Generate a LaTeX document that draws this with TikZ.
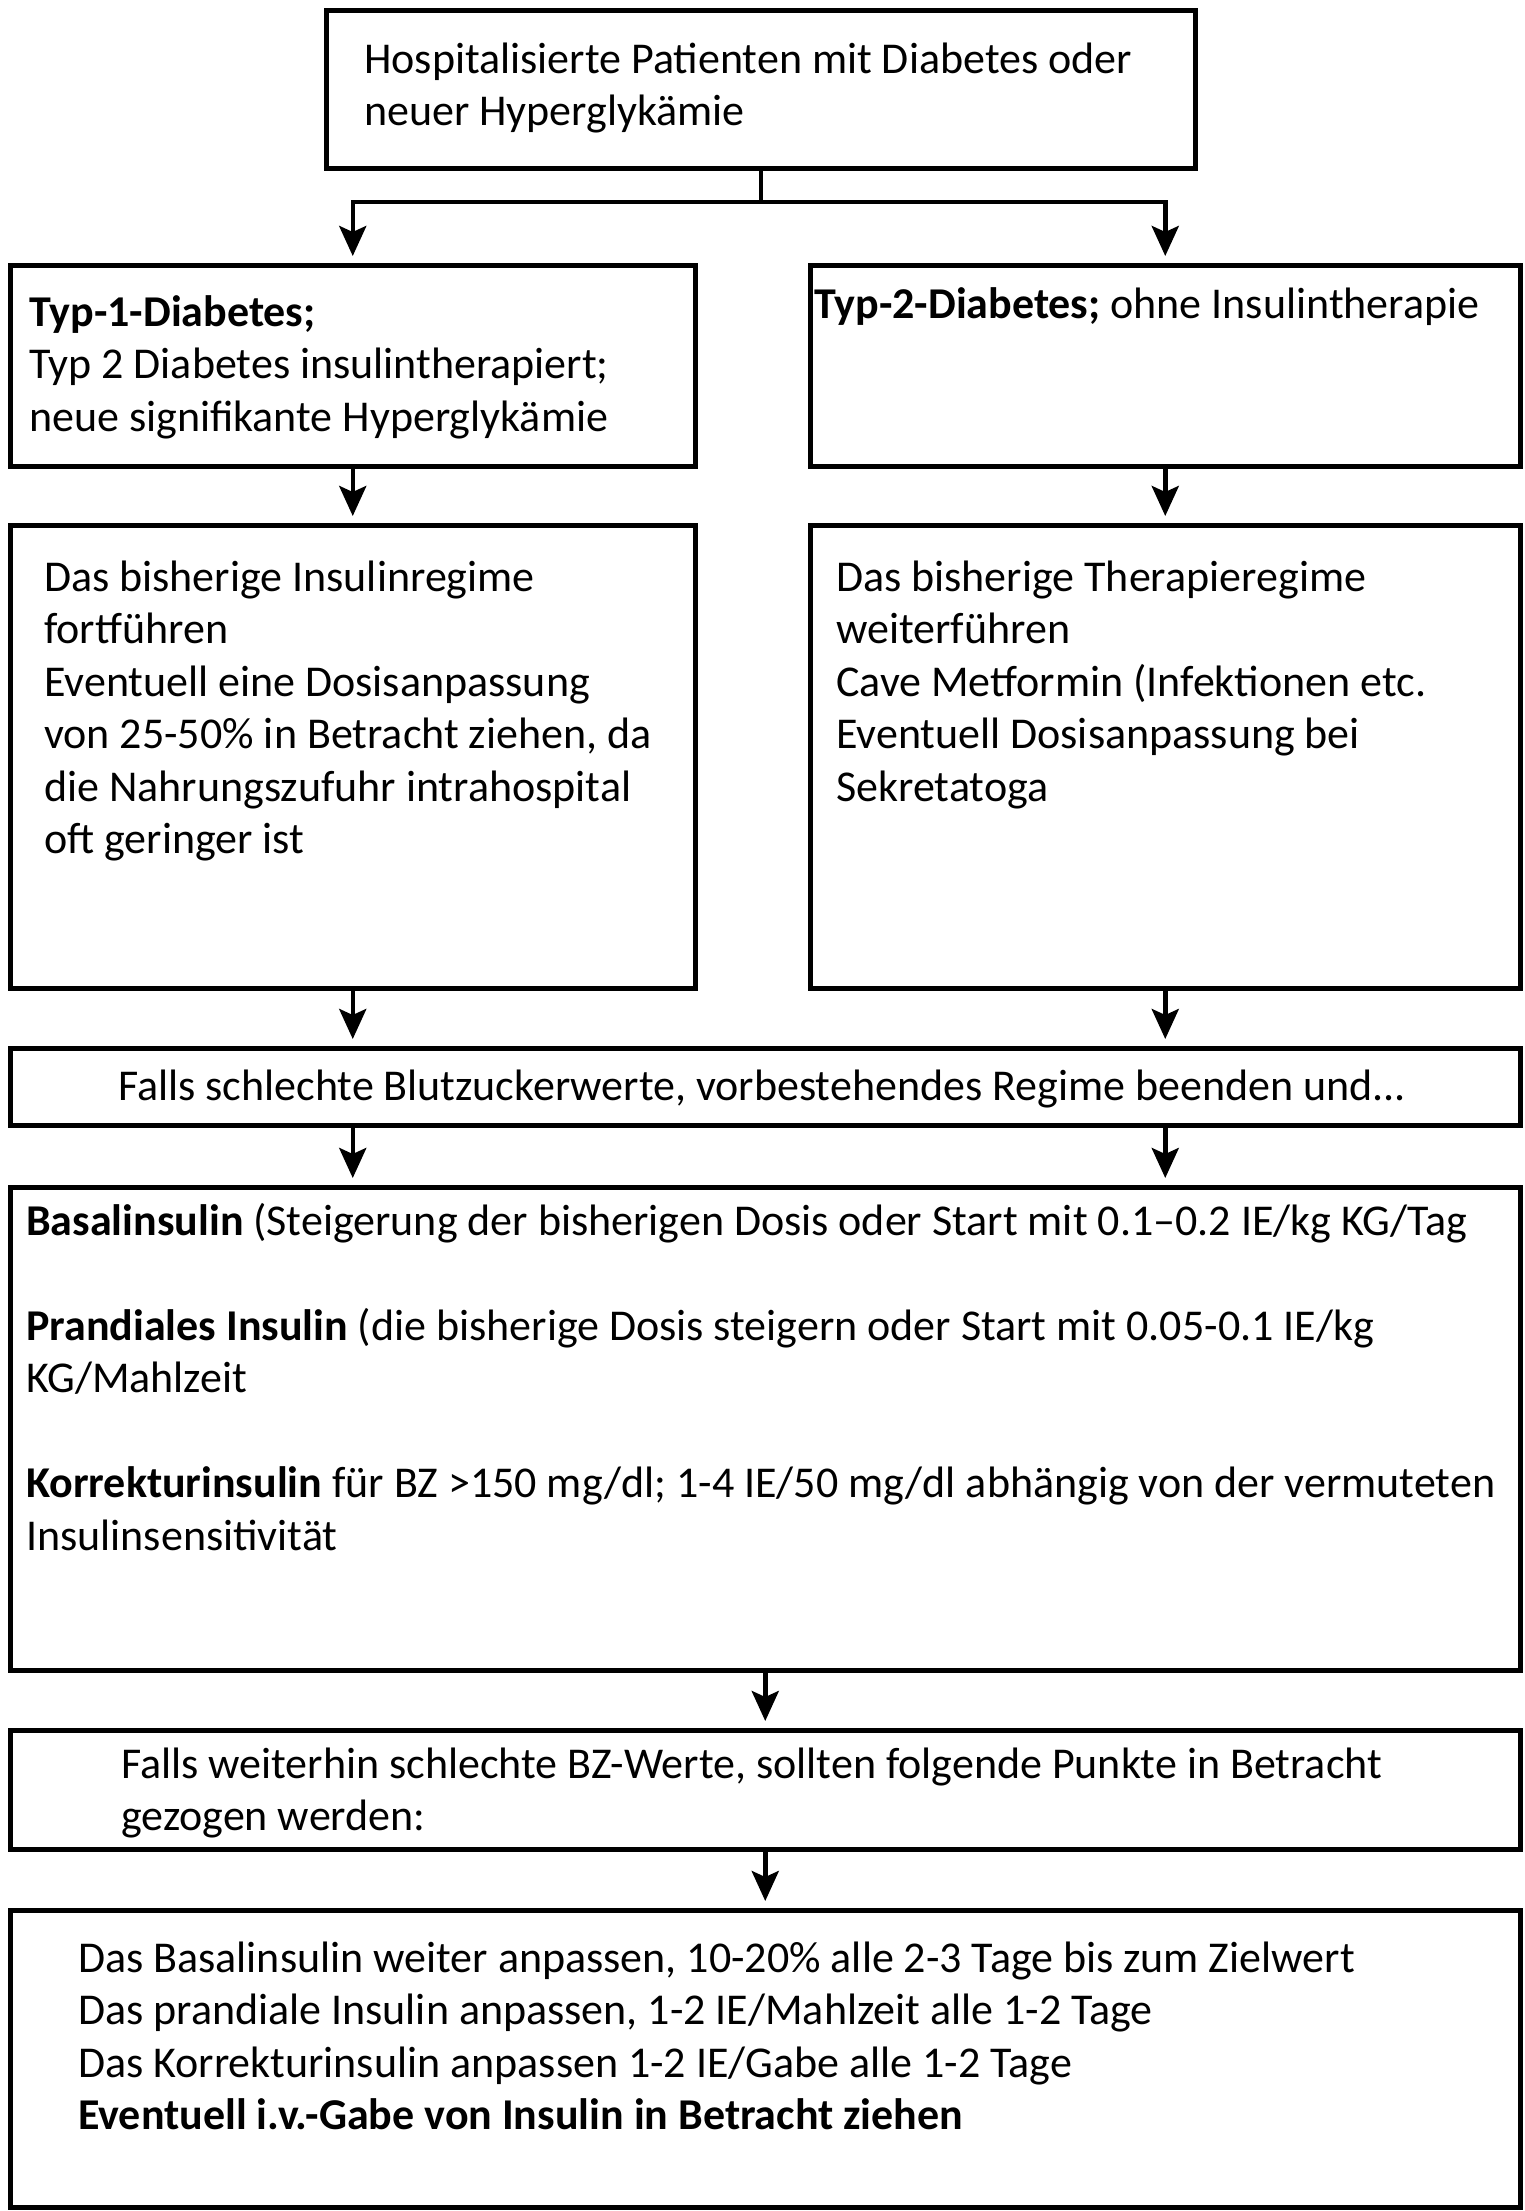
\documentclass[tikz,border=0pt]{standalone}
\usepackage{fontspec}
\setmainfont{Carlito}
\usetikzlibrary{arrows.meta}
\begin{document}
\begin{tikzpicture}[x=1pt,y=-1pt,
  box/.style={draw=black, line width=4.5pt, inner sep=0pt, anchor=north west},
  txt/.style={inner sep=0pt, anchor=base west, align=left, font=\fontsize{44}{52.5}\selectfont},
  arr/.style={line width=4.5pt, shorten >=7pt, -{Stealth[length=30pt,width=27pt,inset=6pt]}},
  ln/.style={line width=4.5pt}]
\useasboundingbox (0,0) rectangle (1524,2211);
\fill[white] (0,0) rectangle (1524,2211);
% boxes
\node[box, minimum width=869pt, minimum height=158pt] (top) at (324,8) {};
\node[box, minimum width=685pt, minimum height=201pt] (b2l) at (8,263) {};
\node[box, minimum width=710pt, minimum height=201pt] (b2r) at (808,263) {};
\node[box, minimum width=685pt, minimum height=463pt] (b3l) at (8,523) {};
\node[box, minimum width=710pt, minimum height=463pt] (b3r) at (808,523) {};
\node[box, minimum width=1510pt, minimum height=77pt] (b4) at (8,1046) {};
\node[box, minimum width=1510pt, minimum height=483pt] (b5) at (8,1185) {};
\node[box, minimum width=1510pt, minimum height=119pt] (b6) at (8,1728) {};
\node[box, minimum width=1510pt, minimum height=297pt] (b7) at (8,1908) {};
% texts (anchored at the baseline of the last line)
\node[txt] (t1) at (364,125.5) {Hospitalisierte Patienten mit Diabetes oder\\neuer Hyperglykämie};
\node[txt] (t2l) at (29,431) {\textbf{Typ-1-Diabetes;}\\Typ 2 Diabetes insulintherapiert;\\neue signifikante Hyperglykämie};
\node[txt] (t2r) at (814,318) {\textbf{Typ-2-Diabetes;} ohne Insulintherapie};
\node[txt] (t3l) at (44,853.5) {Das bisherige Insulinregime\\fortführen\\Eventuell eine Dosisanpassung\\von 25-50\% in Betracht ziehen, da\\die Nahrungszufuhr intrahospital\\oft geringer ist};
\node[txt] (t3r) at (836,801) {Das bisherige Therapieregime\\weiterführen\\Cave Metformin (Infektionen etc.\\Eventuell Dosisanpassung bei\\Sekretatoga};
\node[txt, anchor=base] (t4) at (762,1100) {Falls schlechte Blutzuckerwerte, vorbestehendes Regime beenden und...};
\node[txt] (t5) at (26,1550) {\textbf{Basalinsulin} (Steigerung der bisherigen Dosis oder Start mit 0.1–0.2 IE/kg KG/Tag\\[52.5pt]\textbf{Prandiales Insulin} (die bisherige Dosis steigern oder Start mit 0.05-0.1 IE/kg\\KG/Mahlzeit\\[52.5pt]\textbf{Korrekturinsulin} für BZ >150 mg/dl; 1-4 IE/50 mg/dl abhängig von der vermuteten\\Insulinsensitivität};
\node[txt] (t6) at (121,1830.5) {Falls weiterhin schlechte BZ-Werte, sollten folgende Punkte in Betracht\\gezogen werden:};
\node[txt] (t7) at (78,2129.5) {Das Basalinsulin weiter anpassen, 10-20\% alle 2-3 Tage bis zum Zielwert\\Das prandiale Insulin anpassen, 1-2 IE/Mahlzeit alle 1-2 Tage\\Das Korrekturinsulin anpassen 1-2 IE/Gabe alle 1-2 Tage\\\textbf{Eventuell i.v.-Gabe von Insulin in Betracht ziehen}};
% connectors
\coordinate (j) at (759,202);
\draw[ln] (top.south) -- (top.south |- j);
\draw[arr] (top.south |- j) -| (b2l.north);
\draw[arr] (top.south |- j) -| (b2r.north);
\draw[arr] (b2l.south) -- (b3l.north);
\draw[arr] (b2r.south) -- (b3r.north);
\draw[arr] (b3l.south) -- (b3l.south |- b4.north);
\draw[arr] (b3r.south) -- (b3r.south |- b4.north);
\draw[arr] (b4.south -| b3l.south) -- (b3l.south |- b5.north);
\draw[arr] (b4.south -| b3r.south) -- (b3r.south |- b5.north);
\draw[arr] (b5.south) -- (b6.north);
\draw[arr] (b6.south) -- (b7.north);
\end{tikzpicture}
\end{document}
